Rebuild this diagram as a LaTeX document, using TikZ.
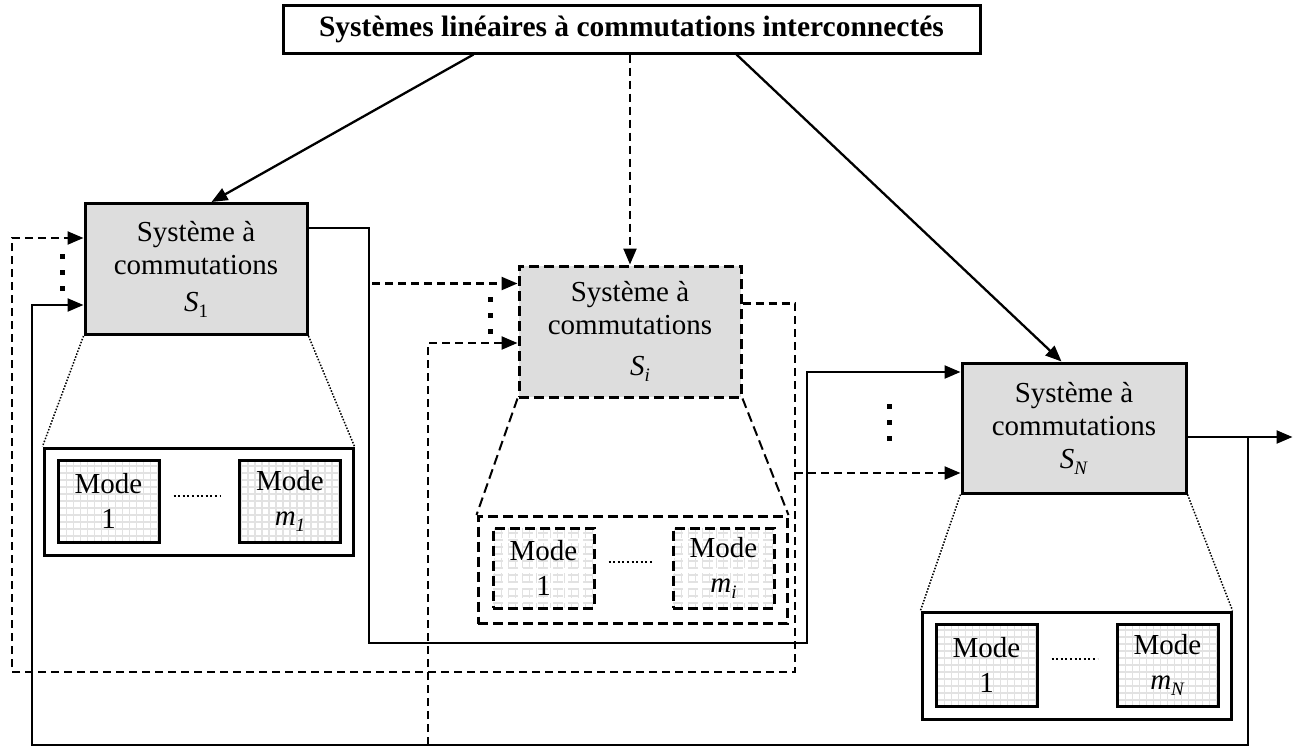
\documentclass[tikz,border=0pt]{standalone}
\usepackage{fontspec}
\setmainfont{Liberation Serif}
\usetikzlibrary{arrows.meta,calc}
\definecolor{boxgray}{RGB}{221,221,221}
\definecolor{gridgray}{RGB}{226,226,226}
\newcommand\subx[1]{\raisebox{-0.45ex}{\fontsize{19}{19}\selectfont #1}}
\begin{document}
\begin{tikzpicture}[x=1pt,y=-1pt,
  font=\fontsize{29}{33}\selectfont,
  dsh/.style={dash pattern=on 8pt off 5pt},
  bdsh/.style={dash pattern=on 10pt off 5pt},
  conn/.style={line width=2.3pt,-{Triangle[length=16pt,width=13pt]}},
  proj/.style={line width=1.5pt,dash pattern=on 1.5pt off 1.6pt},
  dotline/.style={line width=2pt,dash pattern=on 2pt off 2.6pt},
  sysbox/.style={draw,line width=3pt,fill=boxgray,minimum width=222pt,minimum height=131pt,inner sep=0pt,align=center},
  ctbox/.style={draw,line width=3pt,fill=white,minimum width=309pt,minimum height=107pt,inner sep=0pt},
  modebox/.style={draw,line width=3pt,fill=white,minimum width=101pt,minimum height=82pt,inner sep=0pt,align=center,
     font=\fontsize{29}{35}\selectfont,
     path picture={
       \foreach \k in {-8,...,8}{\draw[gridgray,line width=1.6pt] ([xshift=\k*7pt]path picture bounding box.north) -- ([xshift=\k*7pt]path picture bounding box.south);}
       \foreach \k in {-7,...,7}{\draw[gridgray,line width=1.6pt] ([yshift=\k*7pt]path picture bounding box.west) -- ([yshift=\k*7pt]path picture bounding box.east);}
     }}
]
\useasboundingbox (0,0) rectangle (1306,747);

% title
\node[draw,line width=3pt,minimum width=697pt,minimum height=48pt,inner sep=0pt,
      font=\bfseries\fontsize{29.5}{33}\selectfont] (T) at (631.5,29) {Systèmes linéaires à commutations interconnectés};

% subsystems
\node[sysbox] (S1) at (196,269) {Système à\\commutations\\[4pt]\textit{S}\subx{1}};
\node[sysbox,bdsh] (Si) at (630,331.5) {Système à\\commutations\\[8pt]\hspace*{20pt}\textit{S}\subx{\textit{i}}};
\node[sysbox,minimum width=224pt,minimum height=130pt] (SN) at (1074,428) {Système à\\commutations\\\textit{S}\subx{\textit{N}}};

% mode containers
\node[ctbox] (C1) at (198.5,501.5) {};
\node[ctbox,bdsh] (Ci) at (632.5,570) {};
\node[ctbox] (CN) at (1076.5,665.5) {};

% modes
\node[modebox] (M11) at (108.5,501) {Mode\\1};
\node[modebox] (M1m) at (290,501) {Mode\\\textit{m}\subx{\textit{1}}};
\node[modebox,bdsh,minimum height=80pt] (Mi1) at (543.5,568) {Mode\\1};
\node[modebox,bdsh,minimum height=80pt] (Mim) at (723.5,568) {Mode\\\textit{m}\subx{\textit{i}}};
\node[modebox] (MN1) at (986.5,665) {Mode\\1};
\node[modebox] (MNm) at (1167.5,665) {Mode\\\textit{m}\subx{\textit{N}}};

\draw[dotline] ([xshift=13pt,yshift=5pt]M11.east) -- ([xshift=-18pt,yshift=5pt]M1m.west);
\draw[dotline] ([xshift=13pt,yshift=6pt]Mi1.east) -- ([xshift=-19pt,yshift=6pt]Mim.west);
\draw[dotline] ([xshift=13pt,yshift=6pt]MN1.east) -- ([xshift=-18pt,yshift=6pt]MNm.west);

% projection lines
\draw[proj] (S1.south west) -- (C1.north west);
\draw[proj] (S1.south east) -- (C1.north east);
\draw[line width=2pt,bdsh] (Si.south west) -- (Ci.north west);
\draw[line width=2pt,bdsh] (Si.south east) -- (Ci.north east);
\draw[proj] (SN.south west) -- (CN.north west);
\draw[proj] (SN.south east) -- (CN.north east);

% from the title
\draw[conn] ([xshift=192pt]T.south west) -- ([xshift=128pt]S1.north west);
\draw[conn,dsh] (T.south -| Si.north) -- (Si.north);
\draw[conn] ([xshift=455pt]T.south west) -- ([xshift=101pt]SN.north west);

% S1 output
\coordinate (j1) at (369,643);
\coordinate (j2) at (807,372);
\draw[conn] ([yshift=41pt]S1.east) -| (j1) -| (j2) -- (j2 -| SN.west);
\coordinate (si1) at ([yshift=48pt]Si.west);
\draw[conn,dsh] ([xshift=3pt]j1 |- si1) -- (si1);

% Si output
\coordinate (d1) at (795,672);
\coordinate (d0) at (12,672);
\coordinate (s1a) at ([yshift=31pt]S1.west);
\draw[conn,dsh] ([yshift=28pt]Si.east) -| (d1) -- (d0) |- (s1a);
\coordinate (sn2) at ([yshift=-45pt]SN.west);
\draw[conn,dsh] (d1 |- sn2) -- (sn2);

% SN output
\coordinate (snout) at ([yshift=-9pt]SN.east);
\coordinate (out) at ($(snout)+(105,0)$);
\draw[conn] (snout) -- (out);
\coordinate (b1) at (1248,745);
\coordinate (b0) at (32,745);
\coordinate (s1b) at ([yshift=-36pt]S1.west);
\draw[conn] (snout -| b1) -- (b1) -- (b0) |- (s1b);
\coordinate (f0) at (428,745);
\coordinate (si2) at ([yshift=-11.5pt]Si.west);
\draw[conn,dsh] (f0) |- (si2);

% vertical dots
\foreach \y in {256,272,288} \fill (59.5,\y-2.5) rectangle ++(5,5);
\foreach \y in {299,315,331} \fill (487.5,\y-2.5) rectangle ++(5,5);
\foreach \y in {406,422,438} \fill (886.5,\y-2.5) rectangle ++(5,5);
\end{tikzpicture}
\end{document}
